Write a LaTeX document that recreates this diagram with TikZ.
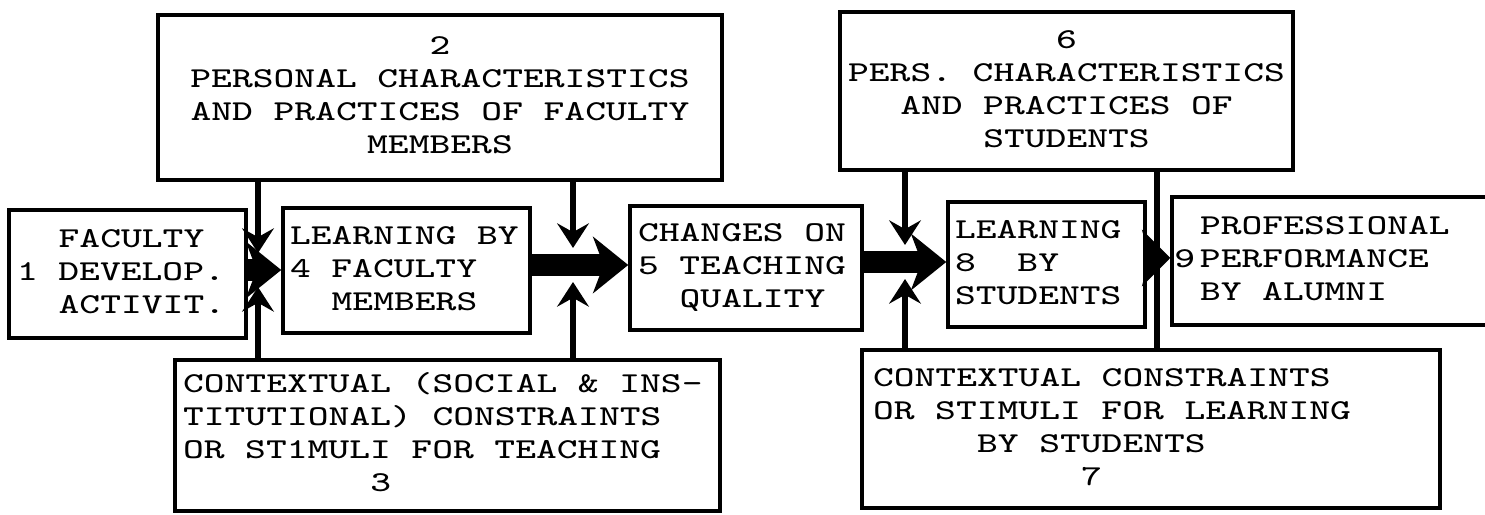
\documentclass[tikz,border=0pt]{standalone}
\usepackage{graphicx}
\usetikzlibrary{arrows.meta}

% typed block of lines, stretched sideways like the old typewriter face
\newcommand{\tw}[2][l]{\spaceskip=0.525em\relax
  \scalebox{1.36}[1]{\begin{tabular}{@{}#1@{}}#2\end{tabular}}}
% one blank typewriter column
\newcommand{\tsp}{\hphantom{0}}

\begin{document}
\begin{tikzpicture}[
  box/.style={draw, line width=1pt, inner ysep=0pt, inner xsep=0.08cm, align=left,
    font=\fontsize{8.2}{9.4}\selectfont\ttfamily},
  flow/.style={line width=6.5pt, -{Stealth[length=10pt,width=16pt,inset=3pt]}},
  feed/.style={line width=1.5pt, -{Stealth[length=7pt,width=9pt,inset=2.5pt]}}]
   \useasboundingbox (0,0) rectangle (14.85,5.15);
   % the boxes
   \node (b1) [box, text width=2.21cm, minimum height=1.28cm] at (1.275,2.41)
     {\tw{\tsp\tsp FACULTY\\1 DEVELOP.\\\tsp\tsp ACTIVIT.}};
   \node (b2) [box, align=center, text width=5.48cm, minimum height=1.65cm] at (4.40,4.175)
     {\tw[c]{2\\PERSONAL CHARACTERISTICS\\AND PRACTICES OF FACULTY\\MEMBERS}};
   \node (b3) [box, text width=5.29cm, minimum height=1.51cm] at (4.475,0.795)
     {\tw{CONTEXTUAL (SOCIAL \& INS-\\TITUTIONAL) CONSTRAINTS\\OR ST1MULI FOR TEACHING\\\tsp\tsp\tsp\tsp\tsp\tsp\tsp\tsp\tsp 3}};
   \node (b4) [box, inner xsep=0.07cm, text width=2.33cm, minimum height=1.25cm] at (4.065,2.445)
     {\tw{LEARNING BY\\4 FACULTY\\\tsp\tsp MEMBERS}};
   \node (b5) [box, text width=2.16cm, minimum height=1.24cm] at (7.46,2.47)
     {\tw{CHANGES ON\\5 TEACHING\\\tsp\tsp QUALITY}};
   \node (b6) [box, align=center, text width=4.37cm, minimum height=1.58cm] at (10.665,4.24)
     {\tw[c]{6\\PERS. CHARACTERISTICS\\AND PRACTICES OF\\STUDENTS}};
   \node (b7) [box, inner xsep=0.11cm, text width=5.56cm, minimum height=1.58cm] at (11.51,0.86)
     {\tw{CONTEXTUAL CONSTRAINTS\\OR STIMULI FOR LEARNING\\\tsp\tsp\tsp\tsp\tsp BY STUDENTS\\\tsp\tsp\tsp\tsp\tsp\tsp\tsp\tsp\tsp\tsp 7}};
   \node (b8) [box, inner xsep=0.07cm, text width=1.83cm, minimum height=1.25cm] at (10.465,2.505)
     {\tw{LEARNING\\8\tsp\tsp BY\\STUDENTS}};
   \node (b9) [box, inner xsep=0.28cm, text width=2.72cm, minimum height=1.28cm] at (13.36,2.54)
     {\tw{PROFESSIONAL\\\llap{9\hspace{1pt}}PERFORMANCE\\BY ALUMNI}};
   % where the side influences meet the main chain
   \coordinate (j1) at (2.58,2.45);
   \coordinate (j2) at (5.73,2.50);
   \coordinate (j3) at (9.05,2.53);
   \coordinate (j4) at (11.57,2.57);
   % main chain
   \draw[flow] (b1.east |- j1) -- (b4.west |- j1);
   \draw[flow] (b4.east |- j2) -- (b5.west |- j2);
   \draw[flow] (b5.east |- j3) -- (b8.west |- j3);
   \draw[line width=6.5pt, -{Stealth[length=8pt,width=16pt,inset=2pt]}] (b8.east |- j4) -- (b9.west |- j4);
   % influences from above and below
   \begin{scope}[feed]
    \draw (b2.south -| j1) -- ([yshift=1.7mm]j1);
    \draw (b3.north -| j1) -- ([yshift=-1.7mm]j1);
    \draw (b2.south -| j2) -- ([yshift=1.7mm]j2);
    \draw (b3.north -| j2) -- ([yshift=-1.7mm]j2);
    \draw (b6.south -| j3) -- ([yshift=1.7mm]j3);
    \draw (b7.north -| j3) -- ([yshift=-1.7mm]j3);
   \end{scope}
   \draw[line width=1.5pt] (b6.south -| j4) -- (b7.north -| j4);
\end{tikzpicture}
\end{document}
